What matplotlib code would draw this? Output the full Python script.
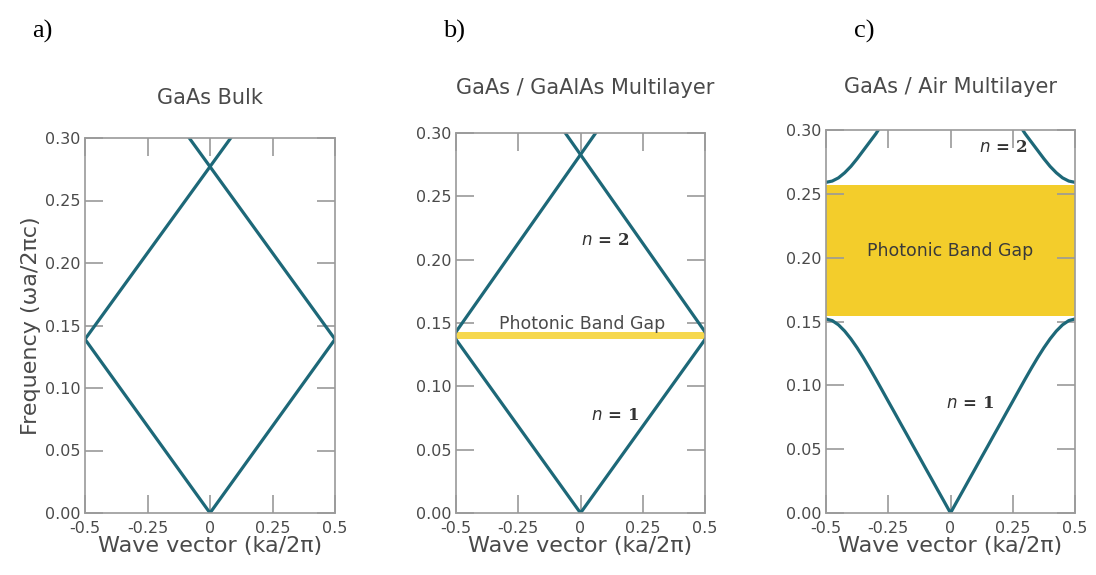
import numpy as np
import matplotlib.pyplot as plt

xticks = [-0.5, -0.25, 0, 0.25, 0.5]
xticklabels = ['-0.5', '-0.25', '0', '0.25', '0.5']
yticks = [0.00, 0.05, 0.10, 0.15, 0.20, 0.25, 0.30]
yticklabels = ['0.00', '0.05', '0.10', '0.15', '0.20', '0.25', '0.30']

titles = ['GaAs Bulk', 'GaAs / GaAlAs Multilayer', 'GaAs / Air Multilayer']
letters = ['a)', 'b)', 'c)']

# a) bulk: folded light line
a_low_k = [-0.5, 0.0, 0.5]
a_low_f = [0.139, 0.0, 0.139]
a_up_k = [-0.5, 0.083]
a_up_f = [0.139, 0.300]

# b) GaAs/GaAlAs: small gap
b_low_k = [-0.5, 0.0, 0.5]
b_low_f = [0.137, 0.0, 0.137]
b_up_k = [-0.5, 0.061]
b_up_f = [0.143, 0.300]
b_gap = (0.137, 0.143)

# c) GaAs/Air: big gap, right half of each band (mirrored)
c_low_k = [0.0, 0.025, 0.05, 0.075, 0.10, 0.125, 0.15, 0.175, 0.20, 0.225, 0.25,
           0.275, 0.30, 0.325, 0.35, 0.375, 0.40, 0.425, 0.45, 0.475, 0.5]
c_low_f = [0.0, 0.0088, 0.0175, 0.0263, 0.035, 0.0438, 0.0525, 0.0613, 0.070, 0.0788, 0.0875,
           0.0963, 0.105, 0.1135, 0.1217, 0.1294, 0.1364, 0.1425, 0.1474, 0.1507, 0.152]
c_up_k = [0.29, 0.30, 0.325, 0.35, 0.375, 0.40, 0.425, 0.45, 0.475, 0.5]
c_up_f = [0.300, 0.297, 0.2905, 0.284, 0.2775, 0.2715, 0.2665, 0.2625, 0.260, 0.259]
c_gap = (0.154, 0.257)

line_c = '#1d6878'
txt_c = '#4a4a4a'
edge_c = '#9a9a9a'

fig = plt.figure(figsize=(10.96, 5.75), dpi=100)
W, H = 1096, 575
boxes = [(85, 138, 335, 513), (456, 133, 705, 513), (826, 130, 1075, 513)]
title_pos = [(210, 98), (585, 88), (950, 87)]
letter_pos = [(32, 31), (443, 31), (854, 31)]

axs = []
for (x0, y0, x1, y1) in boxes:
    ax = fig.add_axes([x0 / W, 1 - y1 / H, (x1 - x0) / W, (y1 - y0) / H])
    ax.set_xlim(-0.5, 0.5)
    ax.set_ylim(0, 0.30)
    ax.set_xticks(xticks)
    ax.set_xticklabels(xticklabels)
    ax.set_yticks(yticks)
    ax.set_yticklabels(yticklabels)
    ax.tick_params(direction='in', length=13, width=1.2, color=edge_c,
                   top=True, right=True, labelsize=11.5, labelcolor=txt_c)
    ax.tick_params(axis='x', pad=6)
    ax.tick_params(axis='y', pad=3)
    for s in ax.spines.values():
        s.set_color(edge_c)
        s.set_linewidth(1.2)
    ax.set_xlabel('Wave vector (ka/2\u03c0)', fontsize=16, color=txt_c, labelpad=0)
    axs.append(ax)

axs[0].set_ylabel('Frequency (\u03c9a/2\u03c0c)', fontsize=16, color=txt_c, labelpad=3)

for i in range(3):
    fig.text(title_pos[i][0] / W, 1 - title_pos[i][1] / H, titles[i], fontsize=15,
             color=txt_c, ha='center', va='center')
    fig.text(letter_pos[i][0] / W, 1 - letter_pos[i][1] / H, letters[i], fontsize=19,
             family='Liberation Serif', color='black', ha='left', va='center')

lw = 2.3
# a
ax = axs[0]
ax.plot(a_low_k, a_low_f, color=line_c, lw=lw)
ax.plot(a_up_k, a_up_f, color=line_c, lw=lw)
ax.plot(-np.array(a_up_k), a_up_f, color=line_c, lw=lw)

# b
ax = axs[1]
ax.axhspan(b_gap[0], b_gap[1], color='#f6d84e', lw=0)
ax.plot(b_low_k, b_low_f, color=line_c, lw=lw)
ax.plot(b_up_k, b_up_f, color=line_c, lw=lw)
ax.plot(-np.array(b_up_k), b_up_f, color=line_c, lw=lw)
ax.text(0.005, 0.149, 'Photonic Band Gap', fontsize=12.5, color=txt_c, ha='center', va='center')
ax.text(0.10, 0.2155, r'$n$ = 2', fontsize=12, family='DejaVu Serif', weight='bold',
        color='#333333', ha='center', va='center')
ax.text(0.14, 0.077, r'$n$ = 1', fontsize=12, family='DejaVu Serif', weight='bold',
        color='#333333', ha='center', va='center')

# c
ax = axs[2]
ax.axhspan(c_gap[0], c_gap[1], color='#f3cd2b', lw=0)
ck = np.array(c_low_k)
ax.plot(np.concatenate([-ck[::-1], ck[1:]]), np.concatenate([c_low_f[::-1], c_low_f[1:]]),
        color=line_c, lw=lw, solid_joinstyle='round')
ax.plot(c_up_k, c_up_f, color=line_c, lw=lw, solid_joinstyle='round')
ax.plot(-np.array(c_up_k), c_up_f, color=line_c, lw=lw, solid_joinstyle='round')
ax.text(0.0, 0.205, 'Photonic Band Gap', fontsize=12.5, color='#3a3a3a', ha='center', va='center')
ax.text(0.21, 0.286, r'$n$ = 2', fontsize=12, family='DejaVu Serif', weight='bold',
        color='#333333', ha='center', va='center')
ax.text(0.08, 0.086, r'$n$ = 1', fontsize=12, family='DejaVu Serif', weight='bold',
        color='#333333', ha='center', va='center')

fig.savefig('out.png', dpi=100)
